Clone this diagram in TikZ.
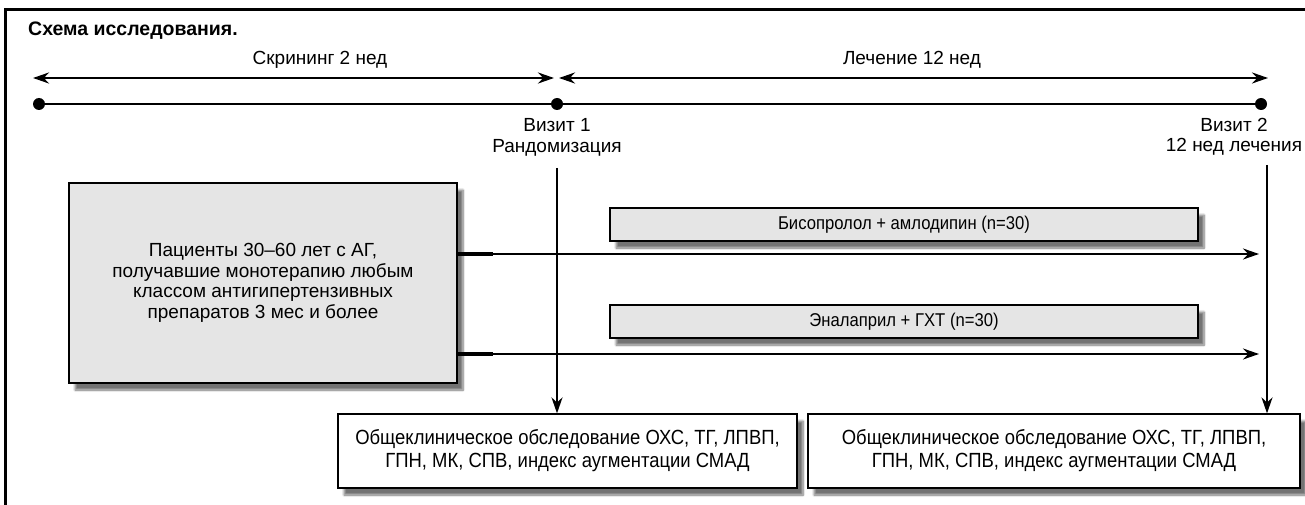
\documentclass[tikz,border=0pt]{standalone}
\usepackage{fontspec}
\setmainfont{Liberation Sans}
\newfontfamily\narrowfont{Liberation Sans}[FakeStretch=0.9]
\usepackage{tikz}
\usetikzlibrary{arrows.meta, positioning, shadows.blur}
\tikzstyle{group}   = [rectangle, draw=black, line width=1.2pt, fill=black!10, text centered, blur shadow={shadow xshift=6pt, shadow yshift=-7pt, shadow blur steps=8, shadow opacity=55}]
\tikzstyle{exam}    = [group, fill=white, minimum height=74pt, font=\narrowfont\fontsize{20.5}{23}\selectfont, align=center]
\tikzstyle{drug}    = [group, minimum width=588pt, minimum height=33pt, font=\narrowfont\fontsize{18.5}{20}\selectfont]
\tikzstyle{dot}     = [circle, fill=black, inner sep=0pt, minimum size=12pt]
\tikzstyle{tline}   = [line width=2.5pt]
\tikzstyle{arrow}   = [line width=2.2pt, -{Stealth[length=16pt, width=11pt]}]
\tikzstyle{dbl}     = [line width=2.5pt, {Stealth[length=16pt, width=11pt]}-{Stealth[length=16pt, width=11pt]}]
\tikzstyle{stub}    = [line width=4pt]

\begin{document}
\begin{tikzpicture}[x=1pt, y=-1pt, font=\fontsize{19}{20.5}\selectfont]
    \useasboundingbox (0,0) rectangle (1305,505);
    \draw [line width=3pt] (5,505) -- (5,10) -- (1305,10);
    \node (title) [anchor=west, inner sep=0pt, font=\bfseries\fontsize{19.5}{20}\selectfont] at (28,31) {Схема исследования.};

    % time axis
    \coordinate (s0) at (33,78);
    \coordinate (s1) at (554,78);
    \coordinate (t0) at (559,78);
    \coordinate (t1) at (1268,78);
    \draw [dbl] (s0) -- (s1);
    \draw [dbl] (t0) -- (t1);
    \node (scr)  at (320,60) {Скрининг 2 нед};
    \node (lech) at (912,60) {Лечение 12 нед};

    \node (d0) [dot] at (39,104) {};
    \node (d1) [dot] at (557,104) {};
    \node (d2) [dot] at (1261,104) {};
    \draw [tline] (d0) -- (d1) -- (d2);
    \node (v1) [align=center, below=5pt of d1] {Визит 1\\Рандомизация};
    \node (v2) [align=center, inner xsep=0pt] at (1234,137) {Визит 2\\12 нед лечения};

    % groups
    \node (pat)  [group, minimum width=388pt, minimum height=200pt, align=center] at (263,283)
        {Пациенты 30--60 лет с АГ,\\получавшие монотерапию любым\\классом антигипертензивных\\препаратов 3 мес и более};
    \node (bis)  [drug] at (904,224.5) {Бисопролол + амлодипин (n=30)};
    \node (enal) [drug] at (904,321.5) {Эналаприл + ГХТ (n=30)};

    \coordinate (e1) at (1259,254);
    \coordinate (e2) at (1259,354);
    \draw [stub]  (pat.east |- e1) -- ++(35,0);
    \draw [stub]  (pat.east |- e2) -- ++(35,0);
    \draw [arrow] (pat.east |- e1) -- (e1);
    \draw [arrow] (pat.east |- e2) -- (e2);

    % examinations
    \node (ex1) [exam, minimum width=459pt] at (567.5,451) {Общеклиническое обследование ОХС, ТГ, ЛПВП,\\ГПН, МК, СПВ, индекс аугментации СМАД};
    \node (ex2) [exam, minimum width=492pt] at (1054,451) {Общеклиническое обследование ОХС, ТГ, ЛПВП,\\ГПН, МК, СПВ, индекс аугментации СМАД};

    \coordinate (v1b) at (557,168);
    \coordinate (v2b) at (1267,165);
    \draw [arrow] (v1b) -- (v1b |- ex1.north);
    \draw [arrow] (v2b) -- (v2b |- ex2.north);
\end{tikzpicture}
\end{document}
